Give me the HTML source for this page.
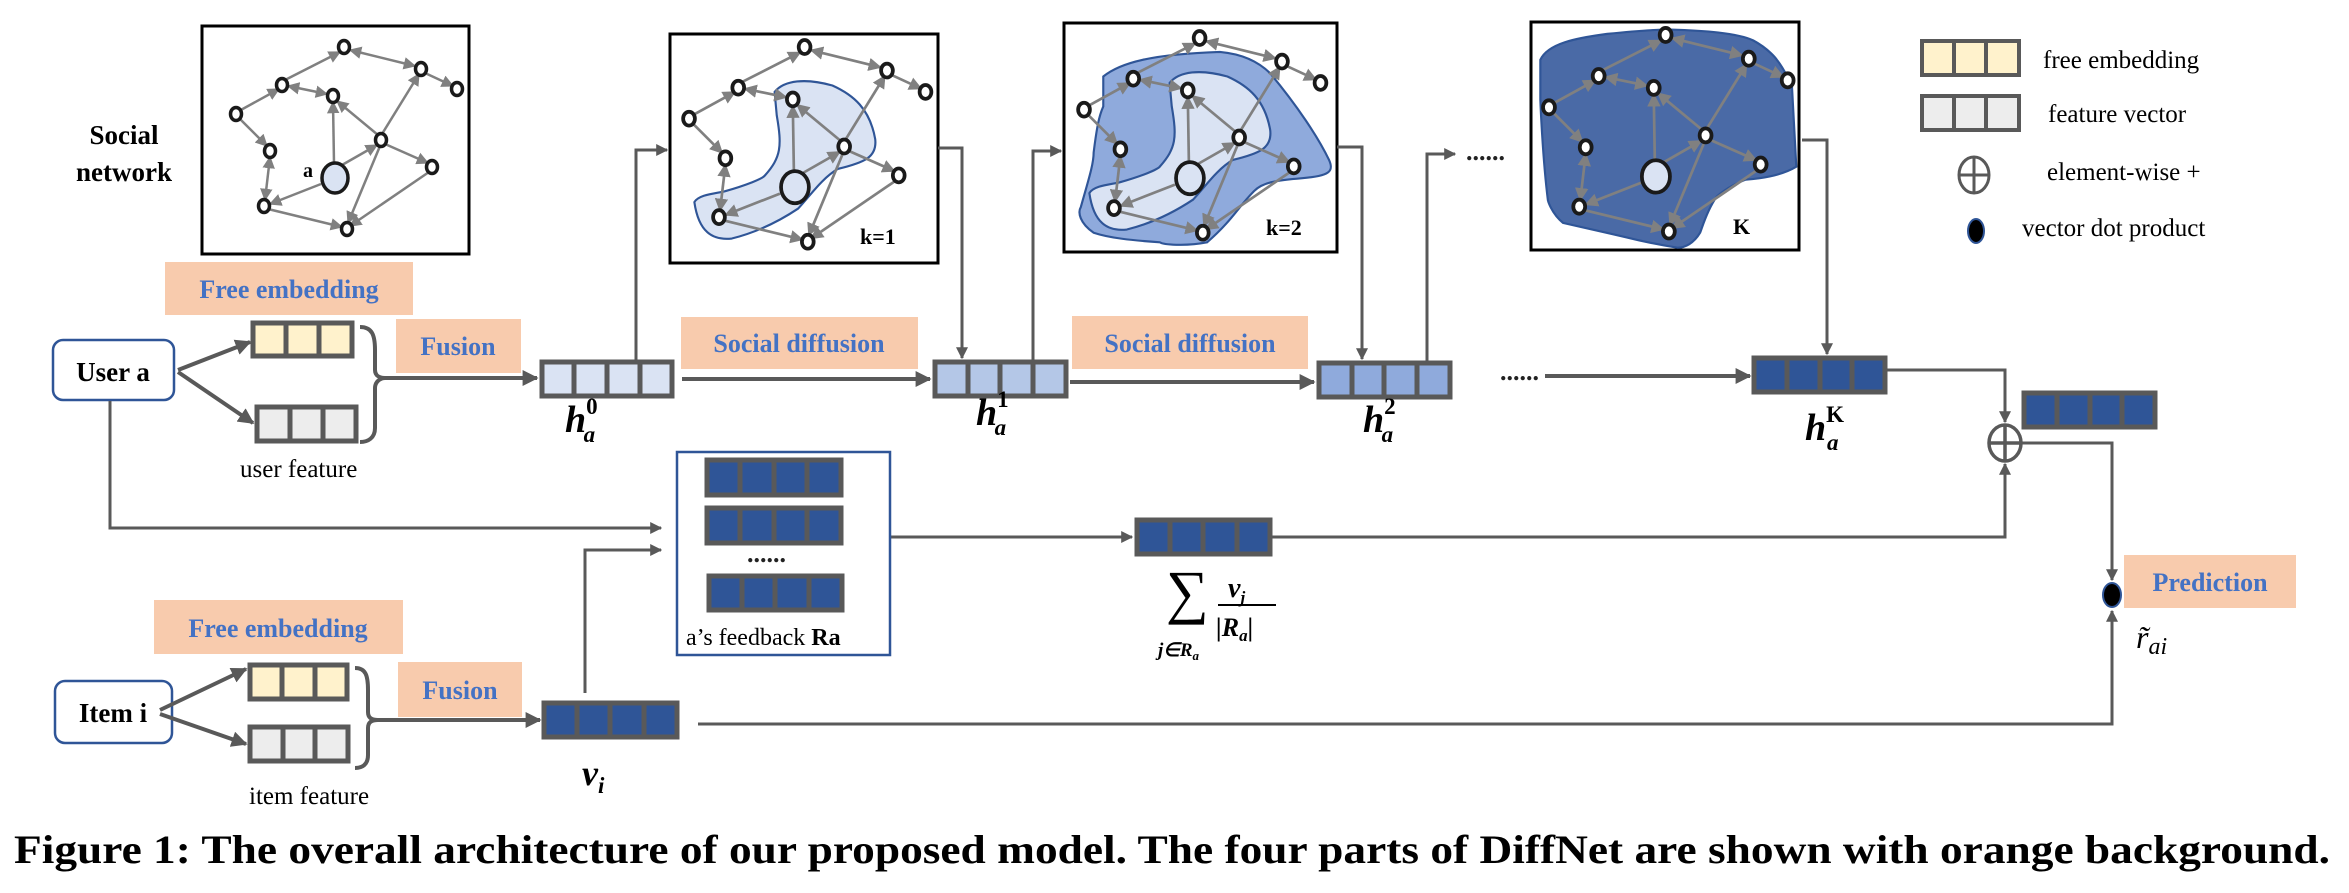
<!DOCTYPE html>
<html><head><meta charset="utf-8"><style>
html,body{margin:0;padding:0;background:#fff;}
svg{display:block;}
text{font-family:"Liberation Serif",serif;}
</style></head><body>
<svg width="2349" height="893" viewBox="0 0 2349 893" xmlns="http://www.w3.org/2000/svg">
<defs>
<marker id="ar" viewBox="0 0 10 10" refX="9" refY="5" markerWidth="4" markerHeight="4" orient="auto-start-reverse" markerUnits="strokeWidth"><path d="M0,0 L10,5 L0,10 z" fill="#595959"/></marker>
<marker id="ga" viewBox="0 0 10 10" refX="9" refY="5" markerWidth="5" markerHeight="5" orient="auto-start-reverse" markerUnits="strokeWidth"><path d="M0,0 L10,5 L0,10 z" fill="#808080"/></marker>
<g id="edges" stroke="#808080" stroke-width="2.5" fill="none">
<line x1="239" y1="111" x2="279" y2="89" marker-end="url(#ga)"/>
<line x1="285" y1="80" x2="340" y2="52" marker-end="url(#ga)"/>
<line x1="350" y1="50" x2="415" y2="66" marker-start="url(#ga)" marker-end="url(#ga)"/>
<line x1="425" y1="73" x2="453" y2="86" marker-end="url(#ga)"/>
<line x1="288" y1="86" x2="327" y2="94" marker-start="url(#ga)" marker-end="url(#ga)"/>
<line x1="239" y1="118" x2="267" y2="146" marker-end="url(#ga)"/>
<line x1="270" y1="157" x2="265" y2="200" marker-start="url(#ga)" marker-end="url(#ga)"/>
<line x1="321" y1="184" x2="270" y2="204" marker-end="url(#ga)"/>
<line x1="334" y1="163" x2="333" y2="102" marker-end="url(#ga)"/>
<line x1="342" y1="165" x2="377" y2="145" marker-end="url(#ga)"/>
<line x1="378" y1="135" x2="337" y2="101" marker-end="url(#ga)"/>
<line x1="385" y1="144" x2="428" y2="163" marker-end="url(#ga)"/>
<line x1="382" y1="134" x2="419" y2="74" marker-end="url(#ga)"/>
<line x1="268" y1="209" x2="342" y2="227" marker-end="url(#ga)"/>
<line x1="429" y1="172" x2="350" y2="226" marker-end="url(#ga)"/>
<line x1="380" y1="146" x2="348" y2="223" marker-end="url(#ga)"/>
</g>
<g id="nodes" stroke="#1a1a1a" stroke-width="3.5" fill="#fff">
<ellipse cx="344" cy="47" rx="5.5" ry="6.5"/><ellipse cx="421" cy="69" rx="5.5" ry="6.5"/><ellipse cx="457" cy="89" rx="5.5" ry="6.5"/>
<ellipse cx="282" cy="85" rx="5.5" ry="6.5"/><ellipse cx="333" cy="96" rx="5.5" ry="6.5"/><ellipse cx="236" cy="114" rx="5.5" ry="6.5"/>
<ellipse cx="381" cy="140" rx="5.5" ry="6.5"/><ellipse cx="270" cy="151" rx="5.5" ry="6.5"/><ellipse cx="432" cy="167" rx="5.5" ry="6.5"/>
<ellipse cx="264" cy="206" rx="5.5" ry="6.5"/><ellipse cx="347" cy="229" rx="5.5" ry="6.5"/>
<ellipse cx="335" cy="178" rx="13" ry="15" fill="#dae3f3"/>
</g>
</defs>

<rect x="202" y="26" width="267" height="228" fill="#fff" stroke="#000" stroke-width="3"/>
<use href="#edges"/><use href="#nodes"/>
<text x="303" y="177" font-size="20" font-weight="bold">a</text>
<text x="124" y="144" font-size="27" font-weight="bold" text-anchor="middle">Social</text>
<text x="124" y="181" font-size="27" font-weight="bold" text-anchor="middle">network</text>

<rect x="670" y="34" width="268" height="229" fill="#fff" stroke="#000" stroke-width="3"/>
<g transform="translate(436.5,-3.3) scale(1.07)">
<path d="M316,89 C325,78 345,76 370,83 C390,92 405,105 410,133 C412,150 400,155 375,161 C360,170 350,185 338,198 C320,210 300,220 276,226 C258,228 245,220 241,192 C245,185 260,184 269,182 C290,176 305,170 307,167 C322,150 323,140 318,111 Z" fill="#dae3f3" stroke="#2f5597" stroke-width="2"/>
<use href="#edges"/><use href="#nodes"/>
</g>
<text x="860" y="244" font-size="22" font-weight="bold">k=1</text>

<rect x="1064" y="23" width="273" height="229" fill="#fff" stroke="#000" stroke-width="3"/>
<g transform="translate(831.5,-12.3) scale(1.07)">
<path d="M254,83 C270,70 300,62 363,60 C385,62 400,70 410,80 C435,110 455,140 465,161 C470,172 465,176 440,178 C415,180 403,182 395,190 C380,205 375,217 351,238 C330,242 310,240 307,238 C280,236 260,234 245,229 C232,220 230,210 233,205 C240,180 245,165 245,154 C248,130 250,120 254,111 Z" fill="#8faadc" stroke="#2f5597" stroke-width="2"/>
<path d="M316,89 C325,78 345,76 370,83 C390,92 405,105 410,133 C412,150 400,155 375,161 C360,170 350,185 338,198 C320,210 300,220 276,226 C258,228 245,220 241,192 C245,185 260,184 269,182 C290,176 305,170 307,167 C322,150 323,140 318,111 Z" fill="#dae3f3" stroke="#2f5597" stroke-width="2"/>
<use href="#edges"/><use href="#nodes"/>
</g>
<text x="1266" y="235" font-size="22" font-weight="bold">k=2</text>

<rect x="1531" y="22" width="268" height="228" fill="#fff" stroke="#000" stroke-width="3"/>
<g transform="translate(1294.1,-15.8) scale(1.08)">
<path d="M228,70 C235,55 260,50 290,46 C320,43 335,42 348,42 C380,43 410,45 425,52 C440,60 447,70 447,70 C455,80 461,95 461,95 L465,169 C450,178 430,180 418,181 C400,188 391,197 391,197 C382,210 378,225 376,230 C370,240 362,244 355,244 C330,240 306,234 306,234 C280,228 249,221 249,221 C238,212 235,200 235,200 C230,160 228,107 228,107 Z" fill="#4a6aa6" stroke="#2f5597" stroke-width="2"/>
<use href="#edges"/><use href="#nodes"/>
</g>
<text x="1733" y="234" font-size="22" font-weight="bold">K</text>

<g stroke="#595959" stroke-width="4">
<rect x="1922" y="41" width="97" height="34" fill="#fff2cc"/>
<line x1="1954" y1="41" x2="1954" y2="75"/><line x1="1986" y1="41" x2="1986" y2="75"/>
<rect x="1922" y="96" width="97" height="34" fill="#ededed"/>
<line x1="1954" y1="96" x2="1954" y2="130"/><line x1="1986" y1="96" x2="1986" y2="130"/>
</g>
<g stroke="#595959" stroke-width="3" fill="none"><ellipse cx="1974" cy="175" rx="15" ry="18"/><line x1="1959" y1="175" x2="1989" y2="175"/><line x1="1974" y1="157" x2="1974" y2="193"/></g>
<ellipse cx="1976" cy="231" rx="8" ry="12" fill="#000" stroke="#2f5597" stroke-width="2"/>
<g font-size="25">
<text x="2043" y="68">free embedding</text>
<text x="2048" y="122">feature vector</text>
<text x="2047" y="180">element-wise  +</text>
<text x="2022" y="236">vector dot product</text>
</g>

<g fill="#f8cbad">
<rect x="165" y="262" width="248" height="53"/>
<rect x="396" y="319" width="125" height="54"/>
<rect x="681" y="317" width="237" height="52"/>
<rect x="1072" y="316" width="236" height="53"/>
<rect x="154" y="600" width="249" height="54"/>
<rect x="398" y="662" width="124" height="55"/>
<rect x="2124" y="555" width="172" height="53"/>
</g>
<g fill="#4472c4" font-weight="bold" font-size="26" text-anchor="middle">
<text x="289" y="298">Free embedding</text>
<text x="458" y="355">Fusion</text>
<text x="799" y="352">Social diffusion</text>
<text x="1190" y="352">Social diffusion</text>
<text x="278" y="637">Free embedding</text>
<text x="460" y="699">Fusion</text>
<text x="2210" y="591">Prediction</text>
</g>

<rect x="53" y="340" width="121" height="60" rx="10" fill="#fff" stroke="#2f5597" stroke-width="2.5"/>
<text x="113" y="381" font-size="27" font-weight="bold" text-anchor="middle">User a</text>
<rect x="55" y="681" width="117" height="62" rx="10" fill="#fff" stroke="#2f5597" stroke-width="2.5"/>
<text x="113" y="722" font-size="27" font-weight="bold" text-anchor="middle">Item i</text>

<g stroke="#595959" stroke-width="4" fill="none">
<line x1="178" y1="370" x2="250" y2="342" marker-end="url(#ar)"/>
<line x1="178" y1="372" x2="253" y2="423" marker-end="url(#ar)"/>
<path d="M360,327 C372,327 375,335 375,350 L375,370 C375,376 380,378 385,378 C380,378 375,382 375,388 L375,428 C375,438 368,442 360,442"/>
<line x1="385" y1="378" x2="537" y2="378" marker-end="url(#ar)"/>
<line x1="160" y1="710" x2="246" y2="669" marker-end="url(#ar)"/>
<line x1="160" y1="714" x2="246" y2="744" marker-end="url(#ar)"/>
<path d="M355,668 C366,668 368,676 368,690 L368,712 C368,718 372,720 378,720 C372,720 368,722 368,728 L368,755 C368,765 362,768 355,768"/>
<line x1="378" y1="720" x2="540" y2="720" marker-end="url(#ar)"/>
<line x1="682" y1="379" x2="930" y2="379" marker-end="url(#ar)"/>
<line x1="1070" y1="382" x2="1314" y2="382" marker-end="url(#ar)"/>
<line x1="1545" y1="376" x2="1750" y2="376" marker-end="url(#ar)"/>
</g>
<g stroke="#595959" stroke-width="3" fill="none">
<polyline points="636,361 636,150 667,150" marker-end="url(#ar)"/>
<polyline points="938,148 962,148 962,358" marker-end="url(#ar)"/>
<polyline points="1033,361 1033,151 1061,151" marker-end="url(#ar)"/>
<polyline points="1337,147 1362,147 1362,359" marker-end="url(#ar)"/>
<polyline points="1427,362 1427,154 1455,154" marker-end="url(#ar)"/>
<polyline points="1802,140 1827,140 1827,354" marker-end="url(#ar)"/>
<polyline points="1886,370 2005,370 2005,422" marker-end="url(#ar)"/>
<polyline points="1272,537 2005,537 2005,464" marker-end="url(#ar)"/>
<polyline points="2022,443 2112,443 2112,580" marker-end="url(#ar)"/>
<polyline points="698,724 2112,724 2112,611" marker-end="url(#ar)"/>
<polyline points="110,401 110,528 661,528" marker-end="url(#ar)"/>
<polyline points="585,693 585,550 661,550" marker-end="url(#ar)"/>
<line x1="890" y1="537" x2="1132" y2="537" marker-end="url(#ar)"/>
</g>
<g font-size="26" font-weight="bold" fill="#222">
<text x="1466" y="160">......</text>
<text x="1500" y="380">......</text>
<text x="747" y="562">......</text>
</g>

<g stroke="#595959" stroke-width="5">
<rect x="253" y="323" width="99" height="33" fill="#fff2cc"/>
<line x1="286" y1="323" x2="286" y2="356"/><line x1="319" y1="323" x2="319" y2="356"/>
<rect x="257" y="407" width="99" height="34" fill="#ededed"/>
<line x1="290" y1="407" x2="290" y2="441"/><line x1="323" y1="407" x2="323" y2="441"/>
<rect x="250" y="665" width="97" height="34" fill="#fff2cc"/>
<line x1="282" y1="665" x2="282" y2="699"/><line x1="315" y1="665" x2="315" y2="699"/>
<rect x="250" y="727" width="98" height="34" fill="#ededed"/>
<line x1="283" y1="727" x2="283" y2="761"/><line x1="315" y1="727" x2="315" y2="761"/>
<rect x="542" y="362" width="130" height="34" fill="#dae3f3"/>
<line x1="574" y1="362" x2="574" y2="396"/><line x1="607" y1="362" x2="607" y2="396"/><line x1="640" y1="362" x2="640" y2="396"/>
<rect x="935" y="362" width="131" height="34" fill="#b4c7e7"/>
<line x1="968" y1="362" x2="968" y2="396"/><line x1="1000" y1="362" x2="1000" y2="396"/><line x1="1033" y1="362" x2="1033" y2="396"/>
<rect x="1319" y="363" width="131" height="34" fill="#8faadc"/>
<line x1="1352" y1="363" x2="1352" y2="397"/><line x1="1384" y1="363" x2="1384" y2="397"/><line x1="1417" y1="363" x2="1417" y2="397"/>
<g fill="#2f5597">
<rect x="1754" y="358" width="131" height="34"/>
<rect x="2024" y="393" width="131" height="34"/>
<rect x="544" y="703" width="133" height="34"/>
<rect x="1137" y="520" width="133" height="34"/>
<rect x="707" y="460" width="134" height="35"/>
<rect x="707" y="508" width="134" height="35"/>
<rect x="709" y="576" width="133" height="34"/>
</g>
<line x1="1787" y1="358" x2="1787" y2="392"/><line x1="1820" y1="358" x2="1820" y2="392"/><line x1="1852" y1="358" x2="1852" y2="392"/>
<line x1="2057" y1="393" x2="2057" y2="427"/><line x1="2090" y1="393" x2="2090" y2="427"/><line x1="2122" y1="393" x2="2122" y2="427"/>
<line x1="577" y1="703" x2="577" y2="737"/><line x1="610" y1="703" x2="610" y2="737"/><line x1="644" y1="703" x2="644" y2="737"/>
<line x1="1170" y1="520" x2="1170" y2="554"/><line x1="1203" y1="520" x2="1203" y2="554"/><line x1="1237" y1="520" x2="1237" y2="554"/>
<line x1="740" y1="460" x2="740" y2="495"/><line x1="774" y1="460" x2="774" y2="495"/><line x1="807" y1="460" x2="807" y2="495"/>
<line x1="740" y1="508" x2="740" y2="543"/><line x1="774" y1="508" x2="774" y2="543"/><line x1="807" y1="508" x2="807" y2="543"/>
<line x1="742" y1="576" x2="742" y2="610"/><line x1="775" y1="576" x2="775" y2="610"/><line x1="809" y1="576" x2="809" y2="610"/>
</g>

<rect x="677" y="452" width="213" height="203" fill="none" stroke="#2f5597" stroke-width="2.5"/>
<text x="686" y="645" font-size="24">a’s feedback <tspan font-weight="bold">Ra</tspan></text>

<g stroke="#595959" stroke-width="3.5" fill="#fff"><ellipse cx="2005" cy="443" rx="16" ry="18"/></g>
<g stroke="#595959" stroke-width="3.5"><line x1="1989" y1="443" x2="2021" y2="443"/><line x1="2005" y1="425" x2="2005" y2="461"/></g>
<ellipse cx="2112" cy="595" rx="9" ry="12" fill="#000" stroke="#2f5597" stroke-width="2"/>

<g font-family="'DejaVu Serif','Liberation Serif',serif">
<text x="565" y="432" font-size="38" font-weight="bold" font-style="italic">h<tspan font-size="23" dy="-18" font-style="normal">0</tspan><tspan font-size="23" dx="-14" dy="28">a</tspan></text>
<text x="976" y="425" font-size="38" font-weight="bold" font-style="italic">h<tspan font-size="23" dy="-18" font-style="normal">1</tspan><tspan font-size="23" dx="-14" dy="28">a</tspan></text>
<text x="1363" y="432" font-size="38" font-weight="bold" font-style="italic">h<tspan font-size="23" dy="-18" font-style="normal">2</tspan><tspan font-size="23" dx="-14" dy="28">a</tspan></text>
<text x="1805" y="440" font-size="38" font-weight="bold" font-style="italic">h<tspan font-size="23" dy="-18" font-style="normal">K</tspan><tspan font-size="23" dx="-17" dy="28">a</tspan></text>
<text x="582" y="785" font-size="36" font-weight="bold" font-style="italic">v<tspan font-size="23" dy="8">i</tspan></text>
<text x="2136" y="648" font-size="32" font-style="italic">r̃<tspan font-size="24" dy="6">ai</tspan></text>
<text x="1166" y="612" font-size="60">∑</text>
<text x="1228" y="597" font-size="28" font-weight="bold" font-style="italic">v<tspan font-size="17" dy="6">j</tspan></text>
<line x1="1218" y1="605" x2="1276" y2="605" stroke="#000" stroke-width="2"/>
<text x="1216" y="636" font-size="26" font-weight="bold" font-style="italic">|R<tspan font-size="17" dy="5">a</tspan><tspan dy="-5">|</tspan></text>
<text x="1158" y="656" font-size="19" font-weight="bold" font-style="italic">j∈R<tspan font-size="13" dy="4">a</tspan></text>
</g>

<text x="240" y="477" font-size="25">user feature</text>
<text x="249" y="804" font-size="25">item feature</text>

<text x="14" y="863" font-size="40" font-weight="bold" textLength="2316" lengthAdjust="spacingAndGlyphs">Figure 1: The overall architecture of our proposed model. The four parts of DiffNet are shown with orange background.</text>
</svg>
</body></html>
